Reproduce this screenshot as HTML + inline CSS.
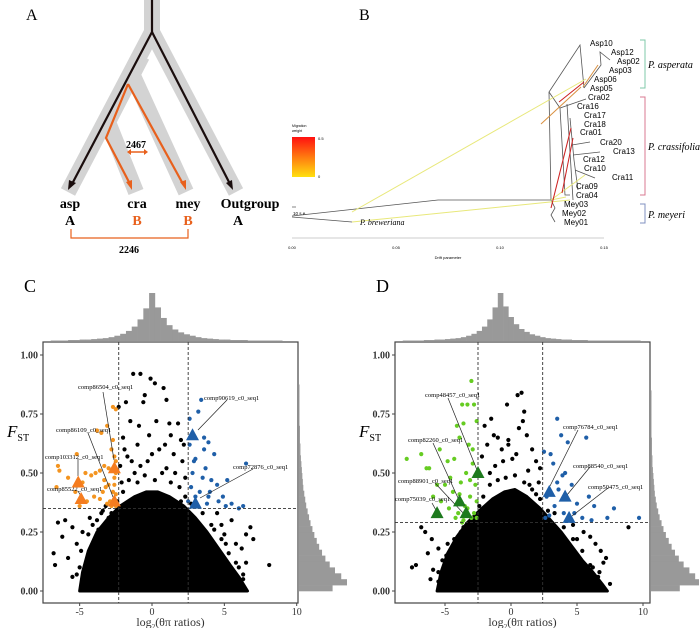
<!DOCTYPE html>
<html><head><meta charset="utf-8">
<style>
html,body{margin:0;padding:0;background:#fff;}
svg{display:block;font-family:"Liberation Serif",serif;}
</style></head>
<body>
<svg id="fig" width="700" height="628" viewBox="0 0 700 628">
<!-- Panel A -->
<g id="panelA">
<text x="26" y="20" font-size="16">A</text>
<g stroke="#d3d3d3" stroke-width="16" fill="none" stroke-linejoin="miter">
<path d="M152,0 L152,32 L68,192"/>
<path d="M152,32 L236,192"/>
<path d="M142,56 L108,122 L136,192"/>
<path d="M134,78 L186,192"/>
</g>
<g fill="none" stroke-width="2.2">
<path d="M152,0 L152,32 L72,184" stroke="#1a0d0d"/>
<path d="M152,32 L230,184" stroke="#1a0d0d"/>
<path d="M128,84 L106,138 L130,184" stroke="#e8601c"/>
<path d="M128,84 L183,184" stroke="#e8601c"/>
</g>
<polygon points="68,190 69,180 76,183" fill="#1a0d0d"/>
<polygon points="233,190 226,183 232,180" fill="#1a0d0d"/>
<polygon points="132,190 126,182 132,180" fill="#e8601c"/>
<polygon points="186,190 180,182 186,180" fill="#e8601c"/>
<text x="136" y="148" font-size="10" text-anchor="middle" font-weight="bold">2467</text>
<g stroke="#e8601c" stroke-width="1.5"><line x1="129" y1="152" x2="145" y2="152"/></g>
<polygon points="127,152 131,149 131,155" fill="#e8601c"/><polygon points="148,152 144,149 144,155" fill="#e8601c"/>
<g font-size="14" font-weight="bold" text-anchor="middle">
<text x="70" y="208">asp</text>
<text x="137" y="208">cra</text>
<text x="188" y="208">mey</text>
<text x="250" y="208">Outgroup</text>
<text x="70" y="225">A</text>
<text x="137" y="225" fill="#e8601c">B</text>
<text x="188" y="225" fill="#e8601c">B</text>
<text x="238" y="225">A</text>
</g>
<path d="M71,229 L71,238 L188,238 L188,229" fill="none" stroke="#e8601c" stroke-width="1.2"/>
<text x="129" y="253" font-size="10" font-weight="bold" text-anchor="middle">2246</text>
</g>

<!-- Panel B -->
<g id="panelB" font-family="Liberation Sans, sans-serif">
<text x="359" y="20" font-size="16" font-family="Liberation Serif, serif">B</text>
<g fill="none" stroke="#555" stroke-width="0.8">
<path d="M292,217 L352,222"/><path d="M292,216 L438,200 L551,200"/>
<path d="M551,200 L549,92 L580,45 L584,88"/>
<path d="M549,92 L560,108 L586,99"/><path d="M584,88 L601,65 L600,52 L610,60"/>
<path d="M560,108 L565,195 L570,195"/><path d="M567,104 L573,200"/>
<path d="M570,118 L574,160 L578,190"/><path d="M572,145 L590,142"/><path d="M573,155 L600,152"/>
<path d="M575,170 L595,178"/><path d="M551,200 L555,208 L551,215 L555,222"/>
</g>
<g fill="none" stroke-width="1">
<path d="M352,212 L586,79" stroke="#e8e87a"/><path d="M352,222 L570,200" stroke="#e8e87a"/>
<path d="M551,200 L585,175" stroke="#e8e87a"/><path d="M551,200 L566,197" stroke="#e8e87a"/>
<path d="M541,124 L581,87" stroke="#d99040"/><path d="M598,65 L583,87" stroke="#d99040"/>
<path d="M559,102 L584,82" stroke="#cc2020"/><path d="M551,208 L571,128" stroke="#cc2020"/><path d="M562,193 L573,138" stroke="#cc2020"/>
</g>
<g font-size="8">
<text x="590" y="46">Asp10</text><text x="611" y="55">Asp12</text><text x="617" y="64">Asp02</text>
<text x="609" y="73">Asp03</text><text x="594" y="82">Asp06</text><text x="590" y="91">Asp05</text>
<text x="588" y="100">Cra02</text><text x="577" y="109">Cra16</text><text x="584" y="118">Cra17</text>
<text x="584" y="127">Cra18</text><text x="580" y="135">Cra01</text><text x="600" y="145">Cra20</text>
<text x="613" y="154">Cra13</text><text x="583" y="162">Cra12</text><text x="584" y="171">Cra10</text>
<text x="612" y="180">Cra11</text><text x="576" y="189">Cra09</text><text x="576" y="198">Cra04</text>
<text x="564" y="207">Mey03</text><text x="562" y="216">Mey02</text><text x="564" y="225">Mey01</text>
</g>
<path d="M640,40 L645,40 L645,88 L640,88" fill="none" stroke="#7fc8a8"/>
<path d="M640,97 L645,97 L645,195 L640,195" fill="none" stroke="#d87890"/>
<path d="M640,204 L645,204 L645,223 L640,223" fill="none" stroke="#8090c0"/>
<g font-family="Liberation Serif, serif" font-style="italic" font-size="10">
<text x="648" y="68">P. asperata</text>
<text x="648" y="150">P. crassifolia</text>
<text x="648" y="218">P. meyeri</text>
<text x="360" y="225" font-size="8">P. breweriana</text>
</g>
<defs><linearGradient id="mg" x1="0" y1="0" x2="0" y2="1"><stop offset="0" stop-color="#ff1010"/><stop offset="0.5" stop-color="#ff7a10"/><stop offset="1" stop-color="#ffe010"/></linearGradient></defs>
<rect x="292" y="137" width="23" height="40" fill="url(#mg)"/>
<text x="292" y="127" font-size="3.5">Migration</text><text x="292" y="132" font-size="3.5">weight</text>
<text x="318" y="140" font-size="4">0.5</text><text x="318" y="178" font-size="4">0</text>
<line x1="292" y1="207" x2="296" y2="207" stroke="#333" stroke-width="0.6"/>
<text x="293" y="215" font-size="4.5">10 s.e.</text>
<line x1="292" y1="238" x2="604" y2="238" stroke="#999" stroke-width="0.6"/>
<g font-size="4" text-anchor="middle"><text x="292" y="249">0.00</text><text x="396" y="249">0.05</text><text x="500" y="249">0.10</text><text x="604" y="249">0.15</text></g>
<text x="448" y="259" font-size="4" text-anchor="middle">Drift parameter</text>
</g>

<g id="panelC"></g>
<g id="panelD"></g>
</svg>
<script>
// ---- shared histogram data ----
const topHistC=[1,1,1,2,2,3,3,4,5,6,8,11,15,21,30,45,68,100,70,48,33,24,18,14,11,8,6,5,4,3,3,2,2,2,1,1,1,1,1,1];
const rightHistC=[70,100,88,75,64,55,48,42,37,32,28,24,21,18,15,13,11,9,8,7,6,5,4,3,3,2,2,2,1,1,1,1,1,1,1,0,0,0,0,0];
const topHistD=[1,1,1,1,2,2,3,3,4,5,6,8,11,15,21,30,45,70,100,72,50,35,25,19,14,11,8,6,5,4,3,3,2,2,2,1,1,1,1,1,1,1,1,1,1];
const rightHistD=[60,100,92,80,68,58,50,43,37,31,26,22,18,15,12,10,8,7,6,5,4,3,3,2,2,2,1,1,1,1,1,1,1,1,0,0,0,0,0,0];
// ---- panel C data ----
const coreXC=[-5.0,-4.8,-4.4,-3.8,-3.0,-2.2,-1.2,-0.4,0.4,1.2,2.2,3.0,3.8,4.6,5.4,6.0,6.4,6.6,-5.0];
const coreYC=[0.0,0.08,0.17,0.25,0.31,0.36,0.40,0.42,0.42,0.40,0.36,0.31,0.25,0.18,0.11,0.06,0.02,0.0,0.0];
const blackXC=[-2.3,-1.8,-1.3,-0.8,-0.1,0.2,0.8,1.0,-0.5,-0.6,-1.5,-0.9,0.3,1.2,1.8,2.0,2.2,-2.0,-1.0,0.5,1.5,-1.7,-2.2,2.1,-0.3,1.0,-1.2,2.3,-2.1,-6.0,-6.5,-5.5,-6.2,-6.8,-6.7,-5.8,-5.2,-5.0,-4.8,-4.6,-5.5,-4.3,-3.5,6.5,6.8,7.0,6.2,5.8,6.5,6.3,8.1,5.5,4.8,4.5,5.0,6.0,5.9,-4.0,-4.2,-3.7,-3.0,
  -2.0,-1.6,-1.0,-0.5,0.2,0.7,1.3,1.9,2.3,-2.4,-3.2,-3.8,-4.4,-4.9,-5.2,3.5,4.1,4.8,5.3,5.8,6.3,-1.4,0.0,0.9,1.6,-0.8,2.0,-2.5,3.0,-1.9,1.3,-0.2,-3.4,-4.1,4.3,5.1,-2.8,2.7];
const blackYC=[0.78,0.80,0.92,0.92,0.90,0.88,0.86,0.81,0.83,0.80,0.72,0.70,0.72,0.71,0.71,0.64,0.62,0.65,0.62,0.60,0.58,0.57,0.53,0.55,0.55,0.52,0.50,0.48,0.46,0.30,0.29,0.27,0.23,0.16,0.11,0.14,0.20,0.10,0.25,0.05,0.06,0.31,0.33,0.24,0.27,0.22,0.18,0.20,0.12,0.05,0.11,0.30,0.28,0.33,0.24,0.10,0.03,0.15,0.03,0.26,0.31,
  0.42,0.47,0.46,0.49,0.47,0.50,0.46,0.44,0.40,0.38,0.36,0.30,0.24,0.17,0.07,0.33,0.28,0.22,0.16,0.12,0.07,0.55,0.58,0.62,0.50,0.53,0.38,0.31,0.36,0.60,0.66,0.66,0.34,0.28,0.26,0.20,0.33,0.37];
const lowXC=[-6.5,-6.4,-6.6,-5.8,-5.2,-4.6,-4.8,-4.2,-3.9,-3.6,-3.3,-3.8,-3.5,-3.1,-2.7,-2.5,-2.6,-2.5,-2.8,-3.0,-3.2,-3.4,-2.7,-2.5,-2.6,-2.9,-3.1,-2.5,-2.8,-4.0,-4.5,-5.0,-5.3,-3.6,-2.6,-2.5,-3.0,-3.3,-2.7,-2.5];
const lowYC=[0.53,0.51,0.44,0.48,0.58,0.50,0.46,0.49,0.50,0.51,0.53,0.68,0.67,0.70,0.78,0.77,0.57,0.55,0.60,0.45,0.44,0.42,0.42,0.41,0.48,0.38,0.37,0.36,0.36,0.40,0.38,0.36,0.42,0.39,0.45,0.50,0.52,0.47,0.64,0.37];
const highXC=[2.6,3.2,3.4,3.6,3.9,3.6,4.3,3.0,3.7,2.9,3.5,4.1,2.7,4.5,5.2,6.5,3.3,3.9,4.6,5.1,5.5,6.0,6.3,2.5,3.0,4.0,2.8,3.8,4.9,2.6];
const highYC=[0.73,0.76,0.81,0.65,0.63,0.60,0.58,0.56,0.52,0.55,0.48,0.47,0.44,0.45,0.47,0.54,0.42,0.40,0.38,0.36,0.37,0.35,0.36,0.38,0.40,0.42,0.50,0.37,0.40,0.62];
const triLowXC=[-5.1,-4.9,-2.6,-2.6], triLowYC=[0.46,0.39,0.52,0.38];
const triHighXC=[2.8,3.0], triHighYC=[0.66,0.37];
// ---- panel D data ----
const coreXD=[-5.6,-5.3,-4.8,-4.1,-3.3,-2.4,-1.4,-0.5,0.3,1.2,2.2,3.0,3.8,4.6,5.4,6.2,6.9,7.3,-5.6];
const coreYD=[0.0,0.08,0.16,0.23,0.29,0.34,0.39,0.42,0.43,0.40,0.35,0.30,0.25,0.19,0.13,0.08,0.03,0.0,0.0];
const blackXD=[-2.0,-1.5,-1.3,-0.3,0.5,0.8,1.0,0.9,0.6,-1.8,-1.0,1.2,1.6,-2.2,-0.6,-0.2,1.9,2.2,-1.6,0.4,1.4,2.1,-6.5,-6.8,-6.0,-5.5,-7.2,-6.3,-5.9,-5.5,-6.1,-5.2,-4.8,-7.5,-4.5,6.0,6.4,6.8,7.2,6.7,7.5,8.9,5.5,5.0,4.7,6.2,7.0,5.6,-4.0,-3.8,
  -2.1,-1.6,-1.0,-0.4,0.3,1.0,1.6,2.2,-2.4,-3.0,-3.6,-4.3,-4.9,-5.5,3.3,4.0,4.7,5.4,6.0,6.6,-1.2,0.1,1.3,-0.7,1.9,-2.6,2.8,-3.8,4.4,-0.2];
const blackYD=[0.70,0.73,0.66,0.79,0.83,0.84,0.76,0.72,0.69,0.62,0.65,0.66,0.60,0.57,0.55,0.62,0.55,0.52,0.50,0.58,0.45,0.46,0.25,0.27,0.22,0.18,0.11,0.16,0.09,0.04,0.05,0.13,0.20,0.10,0.03,0.23,0.20,0.17,0.14,0.08,0.03,0.27,0.25,0.22,0.28,0.10,0.12,0.05,0.02,0.06,
  0.40,0.45,0.47,0.48,0.49,0.46,0.43,0.39,0.36,0.31,0.27,0.22,0.15,0.08,0.33,0.27,0.22,0.17,0.11,0.06,0.53,0.56,0.51,0.60,0.41,0.30,0.34,0.25,0.20,0.64];
const lowXD=[-7.9,-6.8,-6.2,-5.4,-5.9,-4.8,-4.3,-3.9,-3.6,-3.3,-3.0,-2.8,-2.6,-3.7,-4.1,-4.6,-5.0,-3.2,-2.9,-3.4,-4.4,-3.8,-2.7,-3.1,-3.5,-4.0,-2.6,-3.0,-4.7,-5.3,-2.8,-3.6,-2.6,-3.3,-4.2,-3.9,-2.7,-3.1,-6.4,-5.6,-3.7,-2.9];
const lowYD=[0.56,0.58,0.52,0.60,0.40,0.55,0.56,0.65,0.71,0.79,0.89,0.79,0.72,0.79,0.70,0.48,0.45,0.62,0.54,0.50,0.42,0.46,0.45,0.40,0.36,0.33,0.38,0.31,0.35,0.38,0.33,0.30,0.31,0.35,0.31,0.41,0.49,0.47,0.52,0.45,0.29,0.60];
const highXD=[3.5,3.8,4.3,5.7,2.5,3.0,3.2,3.9,4.1,3.5,5.0,6.3,7.8,9.7,7.3,5.4,4.8,2.7,3.3,2.9,4.0,6.1,3.6,4.6,2.6,5.9];
const highYD=[0.73,0.66,0.63,0.65,0.59,0.58,0.54,0.49,0.50,0.46,0.37,0.36,0.35,0.31,0.31,0.31,0.33,0.40,0.36,0.32,0.33,0.30,0.43,0.45,0.31,0.40];
const triLowXD=[-5.6,-3.9,-3.4,-2.5], triLowYD=[0.33,0.38,0.33,0.50];
const triHighXD=[2.9,4.1,4.4], triHighYD=[0.42,0.40,0.31];

const NS='http://www.w3.org/2000/svg';
function mk(parent,tag,attrs){const e=document.createElementNS(NS,tag);for(const k in attrs)e.setAttribute(k,attrs[k]);parent.appendChild(e);return e;}

function drawPanel(g,cfg){
  const sx=v=>cfg.x0px+v*cfg.pxu;
  const sy=v=>591-v*236;
  const L=mk(g,'text',{x:cfg.boxL-19,y:292,'font-size':18});L.textContent=cfg.letter;
  
  
  const bw=cfg.topW;
  cfg.top.forEach((h,i)=>{
    const r=mk(g,'rect',{x:sx(cfg.topStart+i*bw),y:341-h*0.48,width:bw*cfg.pxu+0.3,height:h*0.48,fill:'#999'});
    
    
  });
  cfg.right.forEach((h,i)=>{
    const r=mk(g,'rect',{x:cfg.boxR+1,y:sy((i+1)*0.025),width:h*0.48,height:0.025*236+0.3,fill:'#999'});
    
    
  });
  const bx=mk(g,'rect',{x:cfg.boxL,y:342,width:cfg.boxR-cfg.boxL,height:261,fill:'#fff',stroke:'#444','stroke-width':1.2});
  
  
  const pts=cfg.coreX.map((x,i)=>sx(x)+','+sy(cfg.coreY[i])).join(' ');
  const core=mk(g,'polygon',{points:pts,fill:'#000',stroke:'#000','stroke-width':3,'stroke-linejoin':'round'});
  
  
  const dots=(xs,ys,col,name)=>xs.forEach((x,i)=>{
    const c=mk(g,'circle',{cx:sx(x),cy:sy(ys[i]),r:2.1,fill:col});
    
    
  });
  dots(cfg.blackX,cfg.blackY,'#000','gene-point');
  dots(cfg.lowX,cfg.lowY,cfg.lowCol,'low-ratio-outlier');
  dots(cfg.highX,cfg.highY,'#1f5fa8','high-ratio-outlier');
  [cfg.vl,cfg.vr].forEach(v=>mk(g,'line',{x1:sx(v),x2:sx(v),y1:342,y2:603,stroke:'#333','stroke-dasharray':'3,2','stroke-width':0.9}));
  mk(g,'line',{x1:cfg.boxL,x2:cfg.boxR,y1:sy(cfg.hl),y2:sy(cfg.hl),stroke:'#333','stroke-dasharray':'3,2','stroke-width':0.9});
  cfg.ann.forEach(a=>{
    mk(g,'line',{x1:a[1],y1:a[2],x2:a[3],y2:a[4],stroke:'#222','stroke-width':0.7});
    const t=mk(g,'text',{x:a[5],y:a[6],'font-size':6.5});t.textContent=a[0];
    
    
  });
  const tri=(xs,ys,col,name)=>xs.forEach((x,i)=>{
    const X=sx(x),Y=sy(ys[i]);
    const p=mk(g,'polygon',{points:`${X},${Y-7} ${X-6.5},${Y+5} ${X+6.5},${Y+5}`,fill:col});
    
    
  });
  tri(cfg.triLX,cfg.triLY,cfg.triLCol,'highlight-gene-low');
  tri(cfg.triHX,cfg.triHY,'#1f5fa8','highlight-gene-high');
  cfg.xt.forEach(v=>{
    mk(g,'line',{x1:sx(v),x2:sx(v),y1:603,y2:606,stroke:'#444'});
    const t=mk(g,'text',{x:sx(v),y:615,'font-size':10,'text-anchor':'middle',fill:'#333'});t.textContent=v;
    
    
  });
  [0,0.25,0.5,0.75,1].forEach(v=>{
    mk(g,'line',{x1:cfg.boxL-3,x2:cfg.boxL,y1:sy(v),y2:sy(v),stroke:'#444'});
    const t=mk(g,'text',{x:cfg.boxL-5,y:sy(v)+3.5,'font-size':10,'text-anchor':'end',fill:'#333','font-weight':'bold'});t.textContent=v.toFixed(2);
    
    
  });
  const yt=mk(g,'text',{x:cfg.boxL-36,y:437,'font-size':17,'font-style':'italic'});
  yt.innerHTML='F<tspan font-size="10" font-style="normal" dy="4">ST</tspan>';
  
  
  const xt=mk(g,'text',{x:(cfg.boxL+cfg.boxR)/2,y:626,'font-size':12,'text-anchor':'middle',fill:'#333'});
  xt.innerHTML='log<tspan font-size="7" dy="3">2</tspan><tspan dy="-3">(θπ ratios)</tspan>';
  
  
}

drawPanel(document.getElementById('panelC'),{letter:'C',x0px:152,pxu:14.47,boxL:43,boxR:298,
  top:topHistC,topStart:-7,topW:0.4,right:rightHistC,coreX:coreXC,coreY:coreYC,blackX:blackXC,blackY:blackYC,
  lowX:lowXC,lowY:lowYC,lowCol:'#f39420',highX:highXC,highY:highYC,vl:-2.3,vr:2.5,hl:0.35,
  triLX:triLowXC,triLY:triLowYC,triLCol:'#f57c1f',triHX:triHighXC,triHY:triHighYC,xt:[-5,0,5,10],
  ann:[['comp86504_c0_seq1',103,392,114,460,78,389],['comp86109_c0_seq1',88,433,113,497,56,432],
       ['comp103312_c0_seq1',78,459,78,476,45,459],['comp85522_c0_seq1',78,491,82,498,47,491],
       ['comp90619_c0_seq1',227,400,198,430,204,400],['comp72876_c0_seq1',253,469,200,498,233,469]]});
drawPanel(document.getElementById('panelD'),{letter:'D',x0px:511,pxu:13.2,boxL:395,boxR:650,
  top:topHistD,topStart:-8.2,topW:0.4,right:rightHistD,coreX:coreXD,coreY:coreYD,blackX:blackXD,blackY:blackYD,
  lowX:lowXD,lowY:lowYD,lowCol:'#66cc22',highX:highXD,highY:highYD,vl:-2.5,vr:2.4,hl:0.29,
  triLX:triLowXD,triLY:triLowYD,triLCol:'#1e7a1e',triHX:triHighXD,triHY:triHighYD,xt:[-5,0,5,10],
  ann:[['comp48457_c0_seq1',448,398,477,470,425,397],['comp82260_c0_seq1',433,443,458,498,408,442],
       ['comp88901_c0_seq1',435,483,465,515,398,483],['comp75039_c0_seq1',432,503,437,512,395,501],
       ['comp76784_c0_seq1',578,430,550,486,563,429],['comp88540_c0_seq1',590,467,567,495,573,468],
       ['comp50475_c0_seq1',608,488,572,516,588,489]]});
</script>
</body></html>
